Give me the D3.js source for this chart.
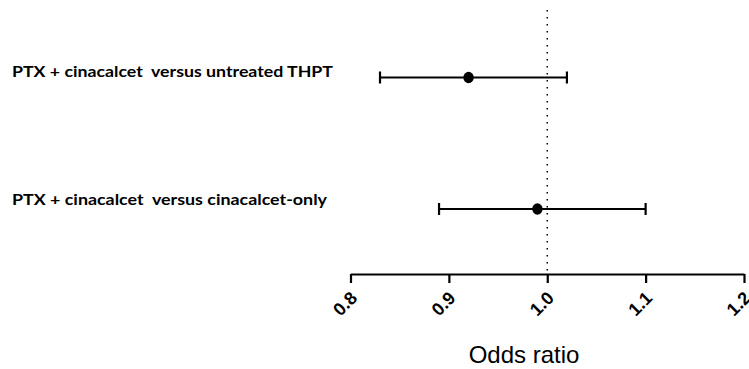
<!DOCTYPE html>
<html><head><meta charset="utf-8">
<script src="https://cdn.jsdelivr.net/npm/d3@7"></script>
<style>body{margin:0;background:#fff}svg{display:block}</style>
</head><body>
<svg id="c" width="749" height="369"></svg>
<script>
const labels = ["PTX + cinacalcet  versus untreated THPT", "PTX + cinacalcet  versus cinacalcet-only"];
const estimates = [0.92, 0.99];
const lower = [0.83, 0.89];
const upper = [1.02, 1.10];
const tickValues = [0.8, 0.9, 1.0, 1.1, 1.2];
const refValue = 1.0;
const axisTitle = "Odds ratio";

const svg = d3.select("#c");
const x = d3.scaleLinear().domain([0.8, 1.2]).range([350.5, 744]);
const y = d3.scalePoint().domain(labels).range([77.5, 209]);
const axisY = 274;

// reference dotted line
svg.append("line")
  .attr("x1", x(refValue)).attr("x2", x(refValue))
  .attr("y1", 10).attr("y2", axisY)
  .attr("stroke", "#000").attr("stroke-width", 1.5)
  .attr("stroke-dasharray", "1.5,5.5");

// axis
const axis = d3.axisBottom(x).tickValues(tickValues).tickFormat(d3.format(".1f")).tickSize(9).tickSizeOuter(0);
const g = svg.append("g").attr("transform", `translate(0,${axisY})`).call(axis);
g.attr("font-size", null).attr("font-family", null);
g.select(".domain").attr("stroke", "#000").attr("stroke-width", 2.2);
g.selectAll(".tick line").attr("stroke", "#000").attr("stroke-width", 2.2);
g.selectAll(".tick text")
  .style("font-family", "'Liberation Sans', Arial, sans-serif")
  .style("font-weight", "bold").style("font-size", "18px").attr("fill", "#000")
  .attr("text-anchor", "end")
  .attr("dominant-baseline", "central")
  .attr("transform", "translate(3,21) rotate(-45)")
  .attr("dy", null).attr("y", 0).attr("x", 0);

// error bars
const rows = labels.map((l, i) => ({l, e: estimates[i], lo: lower[i], hi: upper[i]}));
const rg = svg.append("g");
rows.forEach(r => {
  const yy = y(r.l);
  rg.append("line").attr("x1", x(r.lo)).attr("x2", x(r.hi)).attr("y1", yy).attr("y2", yy)
    .attr("stroke", "#000").attr("stroke-width", 2.2);
  [r.lo, r.hi].forEach(v => rg.append("line").attr("x1", x(v)).attr("x2", x(v))
    .attr("y1", yy - 6).attr("y2", yy + 6).attr("stroke", "#000").attr("stroke-width", 2.2));
  rg.append("ellipse").attr("cx", x(r.e)).attr("cy", yy).attr("rx", 5.2).attr("ry", 5.7).attr("fill", "#000");
});

// row labels
svg.append("g").selectAll("text").data(labels).join("text")
  .attr("x", 12).attr("y", (d, i) => y(d) + (i === 0 ? -1 : -4))
  .style("font-family", "Lato, 'Open Sans', sans-serif")
  .style("font-weight", "bold").style("font-size", "16px").style("white-space", "pre")
  .attr("fill", "#000")
  .attr("textLength", (d, i) => i === 0 ? 321 : 315).attr("lengthAdjust", "spacingAndGlyphs")
  .text(d => d);

svg.append("text").attr("x", 524).attr("y", 363).attr("text-anchor", "middle")
  .style("font-family", "'Liberation Sans', Arial, sans-serif")
  .style("font-size", "24px").attr("fill", "#000").text(axisTitle);
</script>
</body></html>
